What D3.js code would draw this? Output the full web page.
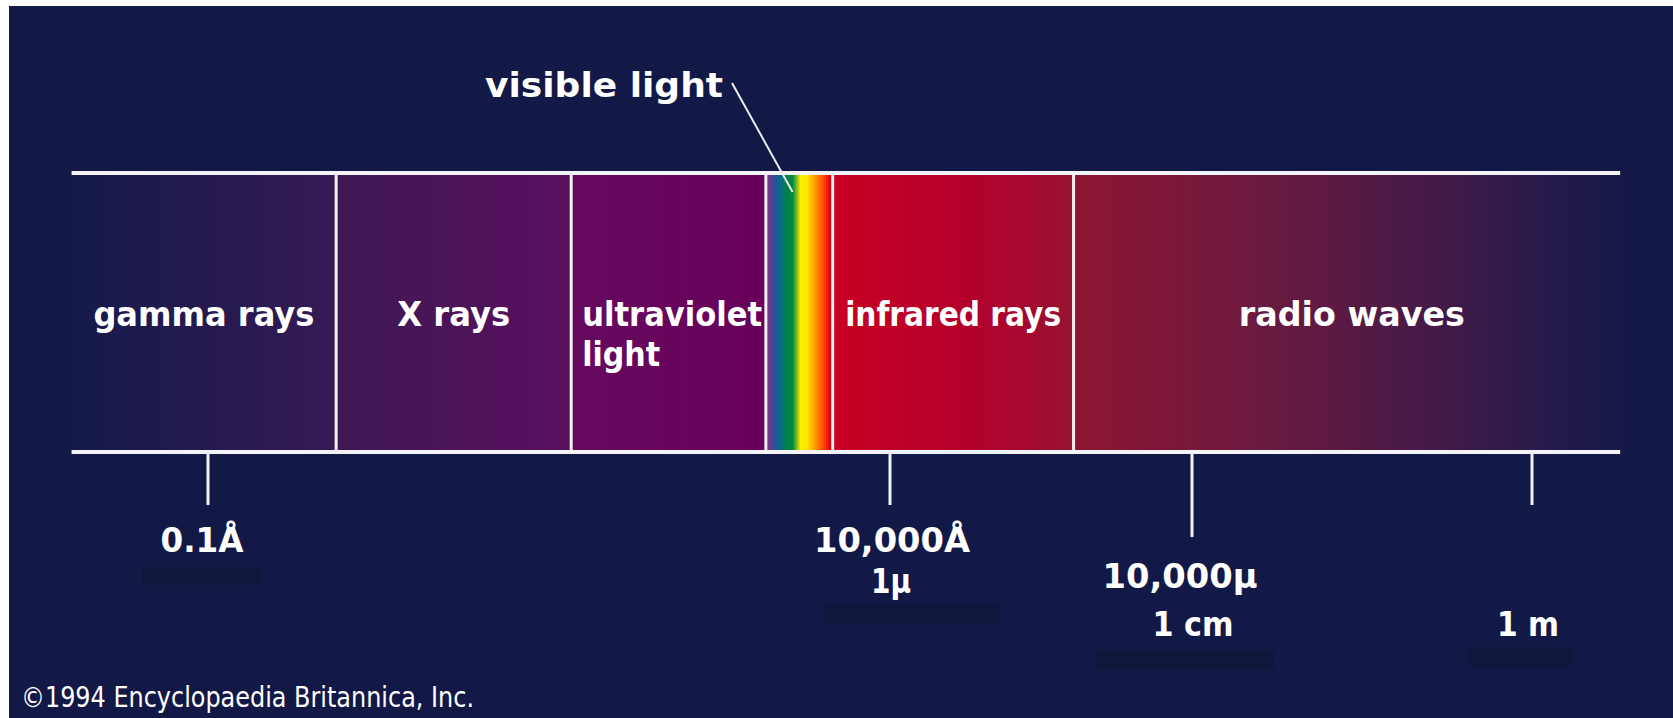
<!DOCTYPE html>
<html>
<head>
<meta charset="utf-8">
<script src="https://cdn.jsdelivr.net/npm/d3@7"></script>
<style>
  body { margin: 0; background: #fff; }
  text { font-family: "DejaVu Sans", "Liberation Sans", sans-serif; fill: #fff; }
</style>
</head>
<body>
<div id="chart"></div>
<script>
// wavelengths in metres (the spectrum is drawn schematically)
var bandNames = ["gamma rays", "X rays", "ultraviolet light", "visible light", "infrared rays", "radio waves"];
var bandEdges = [1e-12, 8.7e-11, 4.6e-9, 1.23e-7, 3.8e-7, 2.7e-4, 4.6];
var lineEnds = [1e-12, 3.3];
var tickValues = [1e-11, 1e-6, 1e-2, 1];
var tickLabels = [["0.1Å"], ["10,000Å", "1μ"], ["10,000μ", "1 cm"], ["1 m"]];
var bandLines = [["gamma rays"], ["X rays"], ["ultraviolet", "light"], [], ["infrared rays"], ["radio waves"]];

// gradient stops for each band (offset, colour)
var bandStops = [
    [[0, "#151a4b"], [0.5, "#241a50"], [1, "#361a56"]],
    [[0, "#3e1854"], [1, "#5a105e"]],
    [[0, "#660a5e"], [1, "#68005a"]],
    [[0, "#6a3a8a"], [0.08, "#6a3a8a"], [0.14, "#1a58a0"], [0.22, "#0e6a88"], [0.3, "#00804a"], [0.4, "#008a40"],
     [0.47, "#90c020"], [0.52, "#ffee00"], [0.62, "#ffe400"], [0.7, "#ffb000"], [0.8, "#ff7000"], [0.88, "#ff3c00"],
     [0.95, "#e80014"], [1, "#d00020"]],
    [[0, "#c80024"], [0.55, "#b4002a"], [0.8, "#a40830"], [1, "#961432"]],
    [[0, "#8e1432"], [0.3, "#6e1a3e"], [0.5, "#561a44"], [0.7, "#3a1a4a"], [0.85, "#231a4a"], [1, "#121947"]]
];

var W = 1673, H = 718;
var yTop = 173, yBot = 452;
var bg = "#121947";

// text widths in the picture, used to squeeze the glyphs like the original condensed face
var textWidth = {
    "gamma rays": 221, "X rays": 113, "ultraviolet": 180, "light": 78, "infrared rays": 216,
    "radio waves": 226, "visible light": 238, "0.1Å": 83, "10,000Å": 156, "1μ": 40,
    "10,000μ": 155, "1 cm": 81, "1 m": 62
};

// schematic, piecewise logarithmic wavelength scale
var x = d3.scaleLog()
    .domain(tickValues)
    .range([208, 890, 1192, 1532]);

var svg = d3.select("#chart").append("svg")
    .attr("width", W)
    .attr("height", H);

svg.append("rect")
    .attr("x", 9).attr("y", 6)
    .attr("width", W - 9).attr("height", H - 6)
    .attr("fill", bg);

var defs = svg.append("defs");
bandStops.forEach(function (stops, i) {
    var g = defs.append("linearGradient")
        .attr("id", "band" + i)
        .attr("x1", "0%").attr("x2", "100%")
        .attr("y1", "0%").attr("y2", "0%");
    stops.forEach(function (s) {
        g.append("stop").attr("offset", s[0]).attr("stop-color", s[1]);
    });
});

var bands = bandNames.map(function (name, i) {
    return { name: name, lo: bandEdges[i], hi: bandEdges[i + 1], lines: bandLines[i], i: i };
});

// band fills
svg.selectAll(".band")
    .data(bands)
    .enter().append("rect")
    .attr("class", "band")
    .attr("x", function (d) { return x(d.lo); })
    .attr("y", yTop)
    .attr("width", function (d) { return x(d.hi) - x(d.lo); })
    .attr("height", yBot - yTop)
    .attr("fill", function (d) { return "url(#band" + d.i + ")"; });

// dividers between bands
svg.selectAll(".divider")
    .data(bandEdges.slice(1, 6))
    .enter().append("line")
    .attr("x1", function (d) { return x(d); })
    .attr("x2", function (d) { return x(d); })
    .attr("y1", yTop)
    .attr("y2", yBot)
    .attr("stroke", "#f2f2f6")
    .attr("stroke-width", 3);

// top and bottom rails
[yTop, yBot].forEach(function (y) {
    svg.append("line")
        .attr("x1", x(lineEnds[0]))
        .attr("x2", x(lineEnds[1]))
        .attr("y1", y).attr("y2", y)
        .attr("stroke", "#f4f4f8")
        .attr("stroke-width", 4);
});

// band names
function fitText(sel, t) {
    sel.attr("textLength", textWidth[t]).attr("lengthAdjust", "spacingAndGlyphs");
}
bands.forEach(function (d) {
    if (!d.lines.length) return;
    var x0 = x(d.lo), x1 = x(d.hi);
    var left = d.name === "ultraviolet light";
    var cx = (x0 + Math.min(x1, x(lineEnds[1]))) / 2 + (d.name === "radio waves" ? 5 : 0);
    d.lines.forEach(function (t, k) {
        var tx = svg.append("text")
            .attr("x", left ? x0 + 11 : cx)
            .attr("y", 326 + k * 40)
            .attr("text-anchor", left ? "start" : "middle")
            .style("font-size", "33px")
            .style("font-weight", "bold")
            .text(t);
        fitText(tx, t);
    });
});

// visible light call-out
var vis = bands[3];
var leadEnd = x(vis.lo) + 0.4 * (x(vis.hi) - x(vis.lo));
svg.append("line")
    .attr("x1", 732).attr("y1", 83)
    .attr("x2", leadEnd).attr("y2", yTop + 19)
    .attr("stroke", "#f0f0f4")
    .attr("stroke-width", 2);
fitText(svg.append("text")
    .attr("x", 723).attr("y", 97)
    .attr("text-anchor", "end")
    .style("font-size", "33px")
    .style("font-weight", "bold")
    .text("visible light"), "visible light");

// wavelength ticks
var tickLen = [53, 53, 85, 53];
var labelBase = [552, 552, 588, 636];
var labelShift = [[-6], [2, 1], [-12, 1], [-4]];
var lineGap = [0, 41, 48, 0];

svg.selectAll(".tick")
    .data(tickValues)
    .enter().append("line")
    .attr("class", "tick")
    .attr("x1", function (d) { return x(d); })
    .attr("x2", function (d) { return x(d); })
    .attr("y1", yBot)
    .attr("y2", function (d, i) { return yBot + tickLen[i]; })
    .attr("stroke", "#f2f2f6")
    .attr("stroke-width", 3);

// faint patches left behind under the labels
var patch = [[-66, 117, 567, 18], [-66, 177, 605, 19], [-95, 177, 650, 20], [-63, 103, 647, 20]];
tickValues.forEach(function (v, i) {
    svg.append("rect")
        .attr("x", x(v) + patch[i][0]).attr("y", patch[i][2])
        .attr("width", patch[i][1]).attr("height", patch[i][3])
        .attr("fill", "#11163d");
});

tickValues.forEach(function (v, i) {
    tickLabels[i].forEach(function (t, k) {
        fitText(svg.append("text")
            .attr("x", x(v) + labelShift[i][k])
            .attr("y", labelBase[i] + k * lineGap[i])
            .attr("text-anchor", "middle")
            .style("font-size", "33px")
            .style("font-weight", "bold")
            .text(t), t);
    });
});

// credit line
svg.append("text")
    .attr("x", 21).attr("y", 707)
    .attr("textLength", 453).attr("lengthAdjust", "spacingAndGlyphs")
    .style("font-size", "28px")
    .text("©1994 Encyclopaedia Britannica, Inc.");
</script>
</body>
</html>
